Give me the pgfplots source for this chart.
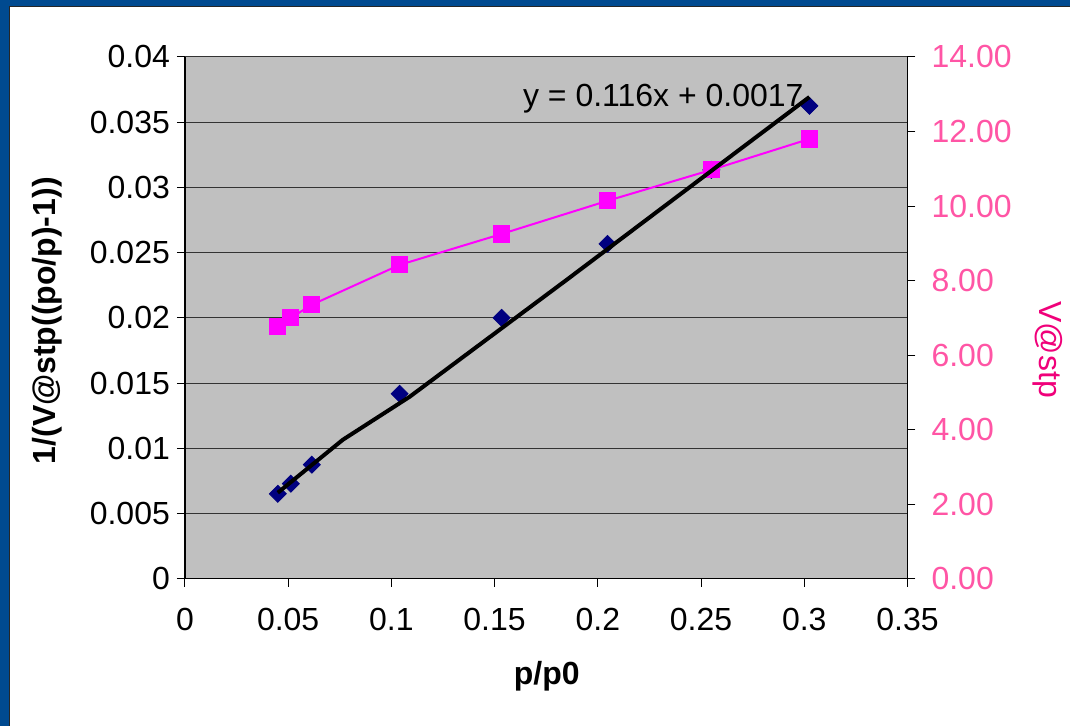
\documentclass[border=0pt]{standalone}
\usepackage{pgfplots}
\pgfplotsset{compat=1.18}
\usepackage{fontspec}
\setmainfont{Liberation Sans}
\definecolor{frameblue}{HTML}{004A90}
\definecolor{plotgray}{HTML}{C0C0C0}
\definecolor{navy}{HTML}{000080}
\definecolor{mag}{HTML}{FF00FF}
\definecolor{pinktick}{HTML}{FF55A5}
\definecolor{pinklab}{HTML}{F0007A}
\newcommand{\chartfont}{\fontsize{16}{19}\selectfont}
\pgfplotsset{
  common/.style={
    at={(92.5pt,73.5pt)}, anchor=south west,
    scale only axis, width=361.5pt, height=261pt,
    xmin=0, xmax=0.35,
    tick align=outside, major tick length=4pt,
    tick style={black, line width=0.5pt},
    axis line style={-, black, line width=0.75pt},
    ticklabel style={font=\chartfont},
    /pgf/number format/assume math mode=true,
    scaled x ticks=false, scaled y ticks=false,
  }
}
\begin{document}
\begin{tikzpicture}
\fill[white] (0,0) rectangle (535.5pt,363pt);
\fill[frameblue] (0,0) rectangle (4.5pt,363pt);
\fill[frameblue] (0,360pt) rectangle (535.5pt,363pt);
\draw[black!85, line width=0.6pt] (4.75pt,0) -- (4.75pt,359.75pt) -- (535.5pt,359.75pt);
\useasboundingbox (0,0) rectangle (535.5pt,363pt);

% left axis
\begin{axis}[common,
  ymin=0, ymax=0.04,
  xtick={0,0.05,0.1,0.15,0.2,0.25,0.3,0.35},
  ytick={0,0.005,0.01,0.015,0.02,0.025,0.03,0.035,0.04},
  axis background/.style={fill=plotgray},
  axis y line*=left, axis x line*=bottom,
  ymajorgrids, grid style={black!80, line width=0.5pt},
  xticklabel style={/pgf/number format/fixed, /pgf/number format/precision=2, yshift=-7pt},
  yticklabel style={/pgf/number format/fixed, /pgf/number format/precision=3},
]
\addplot[only marks, mark=square*, mark size=3pt, mark options={rotate=45, fill=navy, draw=navy}]
  coordinates {(0.0450,0.00651) (0.0513,0.00728) (0.0615,0.00874) (0.1040,0.01418)
               (0.1534,0.02000) (0.2047,0.02567) (0.2550,0.03134) (0.3025,0.03625)};
\end{axis}

% right axis
\begin{axis}[common,
  ymin=0, ymax=14,
  ytick={0,2,4,6,8,10,12,14},
  axis y line*=right, axis x line=none,
  yticklabel style={/pgf/number format/fixed, /pgf/number format/fixed zerofill,
                    /pgf/number format/precision=2, color=pinktick, xshift=4.5pt},
]
\addplot[mag, line width=1pt, mark=square*, mark size=3.8pt, mark options={fill=mag, draw=mag}]
  coordinates {(0.0450,6.76) (0.0513,7.00) (0.0615,7.35) (0.1040,8.42)
               (0.1534,9.25) (0.2047,10.14) (0.2550,10.97) (0.3025,11.80)};
\end{axis}

% trendline on top
\begin{axis}[common, ymin=0, ymax=0.04, hide axis]
\addplot[black, line width=2pt, no marks]
  coordinates {(0.0450,0.00659) (0.0765,0.01065) (0.1089,0.01395) (0.1849,0.02291) (0.3025,0.03693)};
\end{axis}

\node[rotate=90, font=\bfseries\chartfont] at (23.5pt,202.5pt) {1/(V@stp((po/p)-1))};
\node[font=\bfseries\chartfont] at (273.5pt,24.5pt) {p/p0};
\node[rotate=-90, font=\chartfont, text=pinklab] at (524pt,188pt) {V@stp};
\node[anchor=base west, font=\chartfont, inner sep=0pt] at (261.5pt,309.5pt) {y = 0.116x + 0.0017};
\end{tikzpicture}
\end{document}
